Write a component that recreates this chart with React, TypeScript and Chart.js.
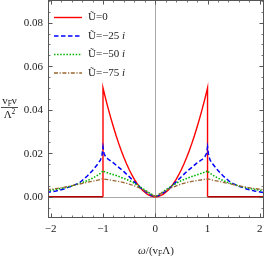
import React, { useEffect, useRef } from "react";
import { Chart, registerables } from "chart.js";

Chart.register(...registerables);

// ---- data ----
const omegaRed = [
  -2.08, -1, -1, -0.95, -0.9, -0.85, -0.8, -0.75, -0.7, -0.65, -0.6, -0.55, -0.5, -0.45, -0.4, -0.35, -0.3,
  -0.25, -0.2, -0.15, -0.1, -0.05, 0, 0.05, 0.1, 0.15, 0.2, 0.25, 0.3, 0.35, 0.4, 0.45, 0.5, 0.55, 0.6,
  0.65, 0.7, 0.75, 0.8, 0.85, 0.9, 0.95, 1, 1, 2.08,
];
const nuU0 = [
  0, 0, 0.05, 0.0451, 0.0405, 0.0361, 0.032, 0.0281, 0.0245, 0.0211, 0.018, 0.0151, 0.0125, 0.0101, 0.008,
  0.0061, 0.0045, 0.0031, 0.002, 0.0011, 0.0005, 0.0001, 0, 0.0001, 0.0005, 0.0011, 0.002, 0.0031, 0.0045,
  0.0061, 0.008, 0.0101, 0.0125, 0.0151, 0.018, 0.0211, 0.0245, 0.0281, 0.032, 0.0361, 0.0405, 0.0451,
  0.05, 0, 0,
];

const omega = [
  -2.08, -1.9, -1.75, -1.6, -1.45, -1.3, -1.2, -1.1, -1.05, -1.02, -1.0, -0.98, -0.95, -0.9, -0.8, -0.7,
  -0.6, -0.5, -0.4, -0.3, -0.2, -0.1, 0, 0.1, 0.2, 0.3, 0.4, 0.5, 0.6, 0.7, 0.8, 0.9, 0.95, 0.98, 1.0,
  1.02, 1.05, 1.1, 1.2, 1.3, 1.45, 1.6, 1.75, 1.9, 2.08,
];
const nuU25 = [
  0.0019, 0.0026, 0.0035, 0.0048, 0.0064, 0.0095, 0.012, 0.015, 0.0168, 0.019, 0.0228, 0.0198, 0.0184,
  0.0172, 0.0155, 0.0135, 0.0115, 0.0092, 0.0068, 0.0045, 0.0025, 0.0009, 0, 0.0009, 0.0025, 0.0045,
  0.0068, 0.0092, 0.0115, 0.0135, 0.0155, 0.0172, 0.0184, 0.0198, 0.0228, 0.019, 0.0168, 0.015, 0.012,
  0.0095, 0.0064, 0.0048, 0.0035, 0.0026, 0.0019,
];
const nuU50 = [
  0.0027, 0.0033, 0.004, 0.0049, 0.006, 0.0074, 0.0085, 0.0099, 0.0107, 0.0113, 0.012, 0.0116, 0.0113,
  0.0109, 0.0101, 0.0093, 0.0084, 0.0074, 0.0062, 0.0047, 0.0031, 0.0015, 0, 0.0015, 0.0031, 0.0047,
  0.0062, 0.0074, 0.0084, 0.0093, 0.0101, 0.0109, 0.0113, 0.0116, 0.012, 0.0113, 0.0107, 0.0099, 0.0085,
  0.0074, 0.006, 0.0049, 0.004, 0.0033, 0.0027,
];
const nuU75 = [
  0.0032, 0.0037, 0.0043, 0.005, 0.0058, 0.0066, 0.0071, 0.0076, 0.0079, 0.0081, 0.0082, 0.0081, 0.008,
  0.0078, 0.0074, 0.007, 0.0065, 0.0058, 0.005, 0.004, 0.0028, 0.0014, 0, 0.0014, 0.0028, 0.004, 0.005,
  0.0058, 0.0065, 0.007, 0.0074, 0.0078, 0.008, 0.0081, 0.0082, 0.0081, 0.0079, 0.0076, 0.0071, 0.0066,
  0.0058, 0.005, 0.0043, 0.0037, 0.0032,
];

const seriesLabels = ["0", "−25", "−50", "−75"];
const xTickValues = [-2, -1, 0, 1, 2];
const xTickLabels = ["−2", "−1", "0", "1", "2"];
const yTickValues = [0, 0.02, 0.04, 0.06, 0.08];
const yTickLabels = ["0.00", "0.02", "0.04", "0.06", "0.08"];
const xMinorTicks = [
  -2, -1.8, -1.6, -1.4, -1.2, -1, -0.8, -0.6, -0.4, -0.2, 0, 0.2, 0.4, 0.6, 0.8, 1, 1.2, 1.4, 1.6, 1.8, 2,
];
const yMinorTicks = [
  -0.01, -0.005, 0, 0.005, 0.01, 0.015, 0.02, 0.025, 0.03, 0.035, 0.04, 0.045, 0.05, 0.055, 0.06, 0.065,
  0.07, 0.075, 0.08, 0.085, 0.09,
];

const COLORS = ["#ff0000", "#0000ff", "#00b400", "#996633"];
const DASHES: number[][] = [[], [4.5, 2.5], [1.5, 1.6], [4, 1.6, 1.2, 1.6]];
const WIDTHS = [1.4, 1.5, 1.6, 1.3];

const SERIF = '"Liberation Serif", "DejaVu Serif", serif';

const framePlugin = {
  id: "framePlugin",
  beforeDatasetsDraw(chart: any) {
    const { ctx, chartArea: a, scales } = chart;
    const xs = scales.x;
    const ys = scales.y;
    ctx.save();
    ctx.strokeStyle = "#a8a8a8";
    ctx.lineWidth = 1;
    const x0 = Math.round(xs.getPixelForValue(0)) + 0.5;
    const y0 = Math.round(ys.getPixelForValue(0)) + 0.5;
    ctx.beginPath();
    ctx.moveTo(x0, a.top);
    ctx.lineTo(x0, a.bottom);
    ctx.moveTo(a.left, y0);
    ctx.lineTo(a.right, y0);
    ctx.stroke();
    ctx.restore();
  },
  afterDraw(chart: any) {
    const { ctx, chartArea: a, scales } = chart;
    const xs = scales.x;
    const ys = scales.y;
    ctx.save();
    // frame
    ctx.strokeStyle = "#555";
    ctx.lineWidth = 1;
    ctx.strokeRect(a.left + 0.5, a.top + 0.5, a.right - a.left - 1, a.bottom - a.top - 1);
    // ticks
    const drawTicks = (vals: number[], len: number) => {
      ctx.beginPath();
      for (const v of vals) {
        const px = Math.round(xs.getPixelForValue(v)) + 0.5;
        if (px < a.left || px > a.right) continue;
        ctx.moveTo(px, a.bottom);
        ctx.lineTo(px, a.bottom - len);
        ctx.moveTo(px, a.top);
        ctx.lineTo(px, a.top + len);
      }
      ctx.stroke();
    };
    const drawYTicks = (vals: number[], len: number) => {
      ctx.beginPath();
      for (const v of vals) {
        const py = Math.round(ys.getPixelForValue(v)) + 0.5;
        if (py < a.top || py > a.bottom) continue;
        ctx.moveTo(a.left, py);
        ctx.lineTo(a.left + len, py);
        ctx.moveTo(a.right, py);
        ctx.lineTo(a.right - len, py);
      }
      ctx.stroke();
    };
    ctx.lineWidth = 0.8;
    drawTicks(xMinorTicks, 2.5);
    drawYTicks(yMinorTicks, 2.5);
    ctx.lineWidth = 1;
    drawTicks(xTickValues, 4.5);
    drawYTicks(yTickValues, 4.5);

    // tick labels
    ctx.fillStyle = "#222";
    ctx.font = `11px ${SERIF}`;
    ctx.textAlign = "right";
    ctx.textBaseline = "middle";
    yTickValues.forEach((v, i) => {
      ctx.fillText(yTickLabels[i], a.left - 5, ys.getPixelForValue(v) + 0.5);
    });
    ctx.textAlign = "center";
    xTickValues.forEach((v, i) => {
      ctx.fillText(xTickLabels[i], xs.getPixelForValue(v), a.bottom + 11);
    });

    // x title: ω/(v_F Λ)
    const bx = 156;
    const by = 254;
    ctx.textAlign = "left";
    ctx.textBaseline = "alphabetic";
    const parts: [string, string, number][] = [
      ["ω", `italic 11px ${SERIF}`, 0],
      ["/(v", `11px ${SERIF}`, 0],
      ["F", `7.5px ${SERIF}`, 2],
      ["Λ)", `11px ${SERIF}`, 0],
    ];
    let tw = 0;
    for (const [t, f] of parts) {
      ctx.font = f;
      tw += ctx.measureText(t).width;
    }
    let cx = bx - tw / 2;
    for (const [t, f, dy] of parts) {
      ctx.font = f;
      ctx.fillText(t, cx, by + dy);
      cx += ctx.measureText(t).width;
    }

    // y title: fraction v_F ν / Λ^2
    const fx = 9.5;
    const num: [string, string, number][] = [
      ["v", `11px ${SERIF}`, 0],
      ["F", `7.5px ${SERIF}`, 2],
      ["ν", `11px ${SERIF}`, 0],
    ];
    tw = 0;
    for (const [t, f] of num) {
      ctx.font = f;
      tw += ctx.measureText(t).width;
    }
    cx = fx - tw / 2;
    for (const [t, f, dy] of num) {
      ctx.font = f;
      ctx.fillText(t, cx, 104 + dy);
      cx += ctx.measureText(t).width;
    }
    ctx.strokeStyle = "#222";
    ctx.lineWidth = 0.8;
    ctx.beginPath();
    ctx.moveTo(1, 107.5);
    ctx.lineTo(18, 107.5);
    ctx.stroke();
    const den: [string, string, number][] = [
      ["Λ", `11px ${SERIF}`, 0],
      ["2", `7.5px ${SERIF}`, -4.5],
    ];
    tw = 0;
    for (const [t, f] of den) {
      ctx.font = f;
      tw += ctx.measureText(t).width;
    }
    cx = fx - tw / 2;
    for (const [t, f, dy] of den) {
      ctx.font = f;
      ctx.fillText(t, cx, 118 + dy);
      cx += ctx.measureText(t).width;
    }

    // legend
    const rows = [17, 35.5, 54, 72.5];
    seriesLabels.forEach((lab, i) => {
      const y = rows[i] + 0.5;
      ctx.strokeStyle = COLORS[i];
      ctx.lineWidth = WIDTHS[i];
      ctx.setLineDash(DASHES[i]);
      ctx.beginPath();
      ctx.moveTo(54, y);
      ctx.lineTo(82, y);
      ctx.stroke();
      ctx.setLineDash([]);
      ctx.fillStyle = "#222";
      ctx.font = `11px ${SERIF}`;
      ctx.textBaseline = "middle";
      const txt = i === 0 ? "Ũ=" + lab : "Ũ=" + lab + " ";
      ctx.fillText(txt, 88, y);
      if (i > 0) {
        const w = ctx.measureText(txt).width;
        ctx.font = `italic 11px ${SERIF}`;
        ctx.fillText("i", 88 + w, y);
      }
    });
    ctx.restore();
  },
};

export default function App() {
  const ref = useRef<HTMLCanvasElement | null>(null);
  useEffect(() => {
    if (!ref.current) return;
    const mk = (xs: number[], ys: number[]) => xs.map((x, i) => ({ x, y: ys[i] }));
    const chart = new Chart(ref.current, {
      type: "line",
      data: {
        datasets: [
          { data: mk(omega, nuU75), borderColor: COLORS[3], borderWidth: WIDTHS[3], borderDash: DASHES[3] },
          { data: mk(omega, nuU50), borderColor: COLORS[2], borderWidth: WIDTHS[2], borderDash: DASHES[2] },
          { data: mk(omega, nuU25), borderColor: COLORS[1], borderWidth: WIDTHS[1], borderDash: DASHES[1] },
          {
            data: mk(omegaRed, nuU0),
            borderColor: COLORS[0],
            borderWidth: WIDTHS[0],
            borderDash: DASHES[0],
            segment: {
              borderColor: (c: any) =>
                c.p0.parsed.y === 0 && c.p1.parsed.y === 0 ? "#b40000" : undefined,
            },
          },
        ].map((d) => ({ ...d, pointRadius: 0, tension: 0, fill: false })),
      },
      options: {
        animation: false,
        responsive: false,
        devicePixelRatio: 1,
        layout: { padding: { left: 48, right: 2, top: 0, bottom: 38 } },
        plugins: { legend: { display: false }, tooltip: { enabled: false } },
        scales: {
          x: { type: "linear", min: -2.052, max: 2.08, display: false },
          y: { type: "linear", min: -0.0098, max: 0.0904, display: false },
        },
      },
      plugins: [framePlugin],
    } as any);
    return () => chart.destroy();
  }, []);
  return (
    <div style={{ position: "absolute", left: 0, top: 0, width: 266, height: 256, background: "#fff" }}>
      <canvas ref={ref} width={266} height={256} style={{ width: 266, height: 256 }} />
    </div>
  );
}
